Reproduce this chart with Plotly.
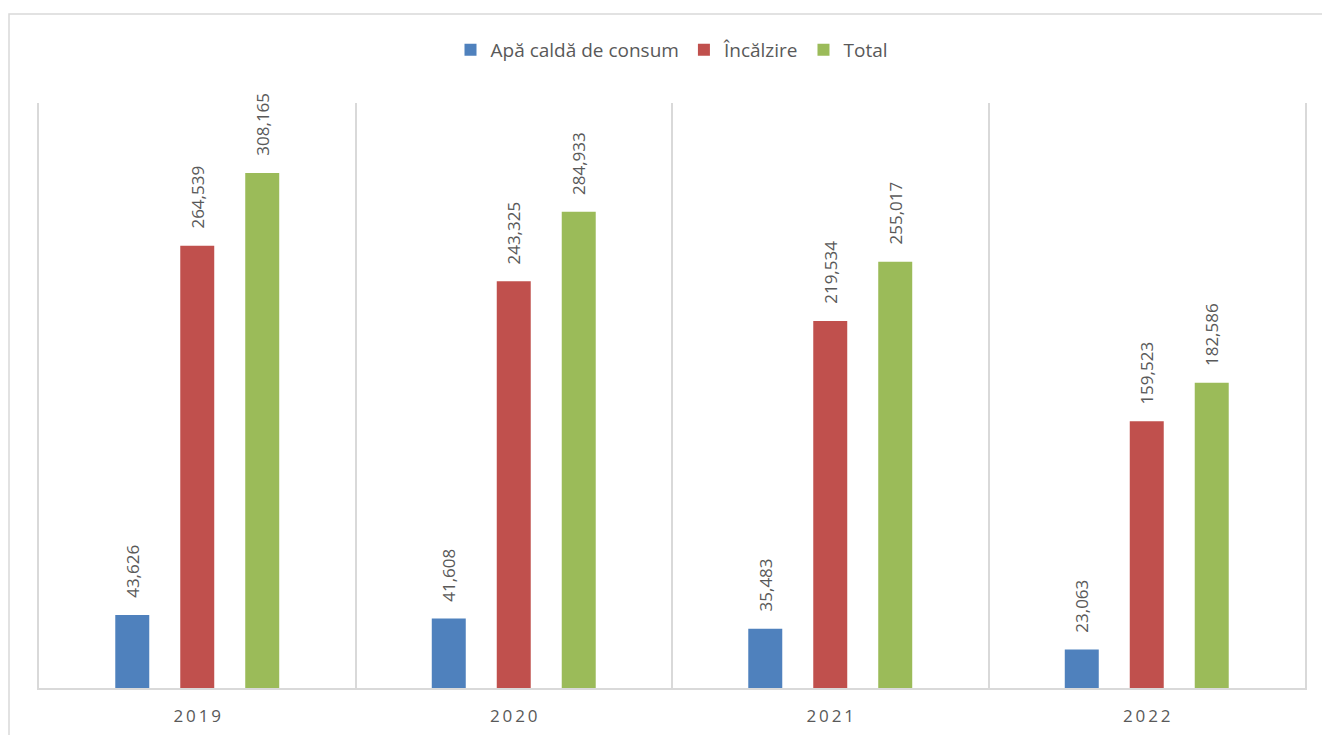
import plotly.graph_objects as go

years = ["2019", "2020", "2021", "2022"]
year_labels = ["2\u20090\u20091\u20099", "2\u20090\u20092\u20090", "2\u20090\u20092\u20091", "2\u20090\u20092\u20092"]
series_names = ["Apă caldă de consum", "Încălzire", "Total"]
apa_calda = [43626, 41608, 35483, 23063]
incalzire = [264539, 243325, 219534, 159523]
total = [308165, 284933, 255017, 182586]
series_values = [apa_calda, incalzire, total]
colors = ["#4F81BD", "#C0504D", "#9BBB59"]

W, H = 1322, 735
margin = dict(l=39, r=17, t=103, b=47)
bargap = 0.384
bargroupgap = 0.477
font_family = "Open Sans"
text_color = "#595959"
grid_color = "#D9D9D9"

fig = go.Figure()
for name, vals, col in zip(series_names, series_values, colors):
    fig.add_trace(go.Bar(
        x=years, y=vals, name=name,
        marker=dict(color=col, line=dict(width=0)),
    ))

# value labels above each bar, rotated vertically
plot_w = W - margin["l"] - margin["r"]
plot_h = H - margin["t"] - margin["b"]
cat_w = plot_w / len(years)
slot = (1 - bargap) * cat_w / len(series_names)
for i, vals in enumerate(series_values):
    shift = (i - (len(series_names) - 1) / 2) * slot
    for j, v in enumerate(vals):
        fig.add_annotation(
            x=j, y=v, xref="x", yref="y", text=f"{v:,}", textangle=-90,
            xanchor="center", yanchor="bottom", xshift=shift, yshift=15,
            showarrow=False,
            font=dict(family=font_family, size=17, color=text_color),
        )

# chart frame
fig.add_shape(type="rect", xref="paper", yref="paper",
              x0=-30 / plot_w, x1=1.1, y0=-0.2, y1=(H - margin["b"] - 14) / plot_h,
              line=dict(color=grid_color, width=1.5), layer="below")

fig.update_layout(
    width=W, height=H, margin=margin,
    paper_bgcolor="white", plot_bgcolor="white",
    barmode="group", bargap=bargap, bargroupgap=bargroupgap,
    font=dict(family=font_family, color=text_color),
    showlegend=True,
    legend=dict(orientation="h", x=0.5, xanchor="center", xref="paper",
                yref="container", y=1 - 50 / H, yanchor="middle",
                font=dict(size=19, color=text_color), itemwidth=30,
                tracegroupgap=0, traceorder="normal"),
    xaxis=dict(type="category", categoryorder="array", categoryarray=years,
               range=[-0.5, len(years) - 0.5], automargin=False,
               tickmode="array", tickvals=years, ticktext=year_labels,
               tickson="boundaries", showgrid=True, gridcolor=grid_color, gridwidth=1.5,
               showline=True, linecolor=grid_color, linewidth=1.5, ticks="",
               ticklabelstandoff=12,
               tickangle=0, tickfont=dict(size=17, color=text_color)),
    yaxis=dict(range=[0, 350000], showgrid=False, showticklabels=False,
               zeroline=False, showline=True, mirror=True, linecolor=grid_color,
               linewidth=1.5, ticks="", automargin=False),
)

fig.write_html("out.html")
